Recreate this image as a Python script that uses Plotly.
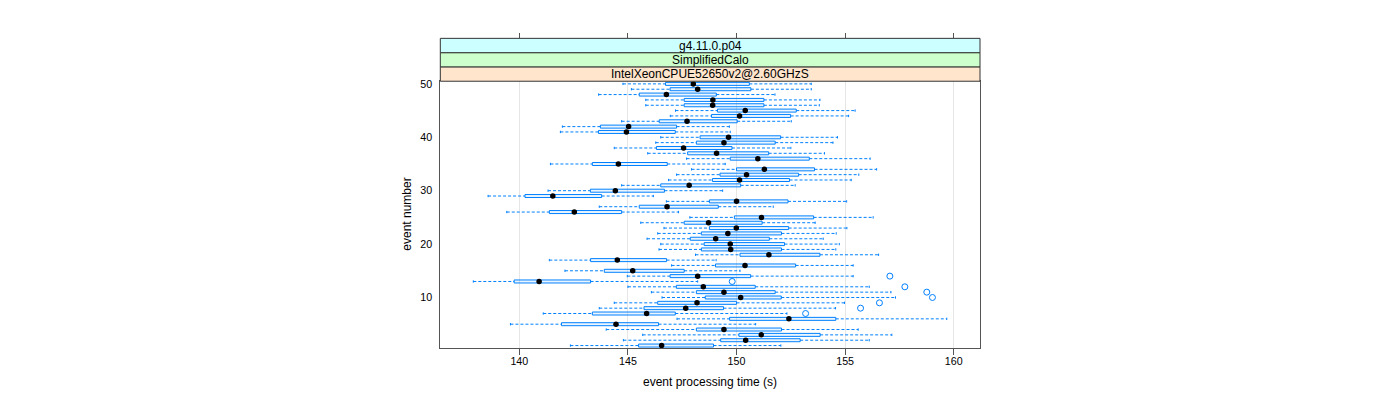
import plotly.graph_objects as go

# ---- data ----
events = list(range(1, 51))
whisker_low = [142.35, 144.79, 145.68, 144.00, 139.59, 147.26, 141.10, 143.68, 144.37, 146.57,
               146.08, 145.00, 137.88, 144.97, 142.10, 147.01, 141.38, 148.11, 146.43, 146.51,
               145.88, 146.37, 146.66, 145.59, 147.85, 139.42, 143.68, 146.77, 138.56, 141.32,
               144.71, 146.87, 147.24, 147.93, 141.43, 147.70, 145.91, 144.37, 146.28, 146.51,
               141.89, 141.98, 144.71, 146.95, 147.19, 145.82, 145.82, 143.65, 145.16, 144.77]
q1 = [145.49, 149.27, 150.11, 148.15, 141.94, 149.68, 143.36, 145.74, 146.37, 148.56,
      148.15, 147.23, 139.76, 146.94, 143.91, 149.03, 143.28, 150.16, 148.38, 148.51,
      147.87, 148.38, 148.75, 147.59, 149.90, 141.38, 145.52, 148.75, 140.26, 143.27,
      146.51, 148.89, 149.24, 150.00, 143.36, 149.71, 147.75, 146.31, 148.15, 148.32,
      143.64, 143.73, 146.44, 148.85, 149.12, 147.59, 147.59, 145.52, 146.94, 146.73]
median = [146.55, 150.42, 151.14, 149.42, 144.45, 152.41, 145.86, 147.66, 148.18, 150.19,
          149.42, 148.47, 140.91, 148.21, 145.22, 150.39, 144.51, 151.49, 149.73, 149.71,
          149.04, 149.60, 149.99, 148.71, 151.15, 142.53, 146.80, 150.00, 141.54, 144.42,
          147.82, 150.14, 150.46, 151.28, 144.56, 150.98, 149.08, 147.56, 149.42, 149.63,
          144.93, 145.03, 147.72, 150.14, 150.40, 148.90, 148.91, 146.77, 148.21, 148.01]
q3 = [148.94, 152.93, 153.85, 152.07, 146.41, 154.57, 147.18, 149.40, 150.00, 152.06,
      151.78, 150.86, 143.28, 150.65, 147.59, 152.72, 146.78, 153.84, 152.07, 152.21,
      151.51, 152.07, 152.40, 151.18, 153.55, 144.71, 149.16, 152.37, 143.79, 146.68,
      150.19, 152.44, 152.86, 153.59, 146.81, 153.35, 151.48, 149.79, 151.78, 152.03,
      147.18, 147.24, 150.03, 152.49, 152.75, 151.26, 151.26, 149.07, 150.66, 150.59]
whisker_high = [152.04, 156.11, 157.15, 155.60, 150.88, 159.68, 152.32, 154.56, 154.97, 157.32,
                157.11, 156.11, 148.21, 155.37, 150.16, 155.37, 149.06, 156.54, 154.57, 154.73,
                153.99, 154.59, 155.08, 153.62, 156.29, 147.33, 151.69, 155.07, 146.17, 149.36,
                152.70, 155.28, 155.63, 156.45, 149.48, 156.15, 154.05, 152.50, 154.44, 154.65,
                149.71, 149.67, 152.52, 155.16, 155.46, 153.81, 153.84, 151.77, 153.44, 153.44]
outlier_event = [7, 8, 9, 10, 11, 12, 13, 14]
outlier_value = [153.18, 155.71, 156.58, 159.02, 158.76, 157.75, 149.80, 157.06]

x_ticks = [140, 145, 150, 155, 160]
y_ticks = [10, 20, 30, 40, 50]
strip_labels = ["g4.11.0.p04", "SimplifiedCalo", "IntelXeonCPUE52650v2@2.60GHzS"]
strip_colors = ["#CCFFFF", "#CCFFCC", "#FFE5CC"]

BLUE = "#0080ff"
FONT = "Liberation Sans, Arial, Helvetica, sans-serif"
BOX_H = 0.28
CAP_H = 0.22

# ---- build geometry from data ----
wx, wy, cx, cy, bx, by = [], [], [], [], [], []
for e, lo, a, b, hi in zip(events, whisker_low, q1, q3, whisker_high):
    wx += [lo, a, None, b, hi, None]
    wy += [e, e, None, e, e, None]
    cx += [lo, lo, None, hi, hi, None]
    cy += [e - CAP_H, e + CAP_H, None, e - CAP_H, e + CAP_H, None]
    bx += [a, b, b, a, a, None]
    by += [e - BOX_H, e - BOX_H, e + BOX_H, e + BOX_H, e - BOX_H, None]

fig = go.Figure()
fig.add_trace(go.Scatter(x=wx, y=wy, mode="lines", line=dict(color=BLUE, width=1, dash="3px,2px"),
                         hoverinfo="skip", showlegend=False))
fig.add_trace(go.Scatter(x=cx, y=cy, mode="lines", line=dict(color=BLUE, width=1),
                         hoverinfo="skip", showlegend=False))
fig.add_trace(go.Scatter(x=bx, y=by, mode="lines", fill="toself", fillcolor="rgba(0,128,255,0.08)",
                         line=dict(color=BLUE, width=1), hoverinfo="skip", showlegend=False))
fig.add_trace(go.Scatter(x=median, y=events, mode="markers",
                         marker=dict(color="black", size=5.5, line=dict(width=0)),
                         showlegend=False))
fig.add_trace(go.Scatter(x=outlier_value, y=outlier_event, mode="markers",
                         marker=dict(symbol="circle-open", color=BLUE, size=6, line=dict(width=1)),
                         showlegend=False))
# invisible trace to hold the top (mirrored) axis
fig.add_trace(go.Scatter(x=[x_ticks[0]], y=[y_ticks[0]], xaxis="x2", mode="markers",
                         marker=dict(opacity=0), hoverinfo="skip", showlegend=False))

W, H = 1400, 400
px_left, px_right = 440.3, 980.0
py_top, py_bottom = 78.0, 347.7
strip_edges = [34.7, 49.3, 63.7, 78.0]

x_range = [136.36, 161.21]
y_range = [0.5, 50.5]

fig.update_layout(
    width=W, height=H,
    margin=dict(l=0, r=0, t=0, b=0),
    paper_bgcolor="white", plot_bgcolor="white",
    font=dict(family=FONT, size=11, color="black"),
    xaxis=dict(domain=[px_left / W, px_right / W], range=x_range,
               tickvals=x_ticks, ticks="outside", ticklen=6, tickcolor="#555555", tickwidth=1,
               ticklabelstandoff=-3,
               tickfont=dict(size=10.7), showgrid=True, gridcolor="#e6e6e6", gridwidth=1,
               showline=True, linecolor="#555555", linewidth=1, mirror=True, zeroline=False),
    xaxis2=dict(overlaying="x", matches="x", anchor="free", side="top",
                position=1 - strip_edges[0] / H, tickvals=x_ticks, ticks="outside", ticklen=5,
                tickcolor="#555555", showticklabels=False, showgrid=False, showline=False,
                zeroline=False),
    yaxis=dict(domain=[1 - py_bottom / H, 1 - py_top / H], range=y_range,
               tickvals=y_ticks, ticks="", ticklabelstandoff=5, tickfont=dict(size=10.7),
               showgrid=False, showline=True, linecolor="#555555", linewidth=1, mirror=True,
               zeroline=False),
)

shapes = []
annotations = []
for i, (lab, col) in enumerate(zip(strip_labels, strip_colors)):
    y0 = 1 - strip_edges[i + 1] / H
    y1 = 1 - strip_edges[i] / H
    shapes.append(dict(type="rect", xref="paper", yref="paper", x0=px_left / W, x1=px_right / W,
                       y0=y0, y1=y1, fillcolor=col, line=dict(color="#333333", width=1), layer="above"))
    annotations.append(dict(text=lab, xref="paper", yref="paper", x=(px_left + px_right) / 2 / W,
                            y=(y0 + y1) / 2, showarrow=False, font=dict(size=12),
                            xanchor="center", yanchor="middle"))
annotations.append(dict(text="event processing time (s)", xref="paper", yref="paper",
                        x=(px_left + px_right) / 2 / W, y=1 - 382 / H, showarrow=False,
                        font=dict(size=12), xanchor="center", yanchor="middle"))
annotations.append(dict(text="event number", xref="paper", yref="paper", x=407 / W,
                        y=1 - (py_top + py_bottom) / 2 / H, showarrow=False, textangle=-90,
                        font=dict(size=12), xanchor="center", yanchor="middle"))
fig.update_layout(shapes=shapes, annotations=annotations)

fig.write_html("out.html", config={"displayModeBar": False},
               post_script="document.body.style.margin='0';")
